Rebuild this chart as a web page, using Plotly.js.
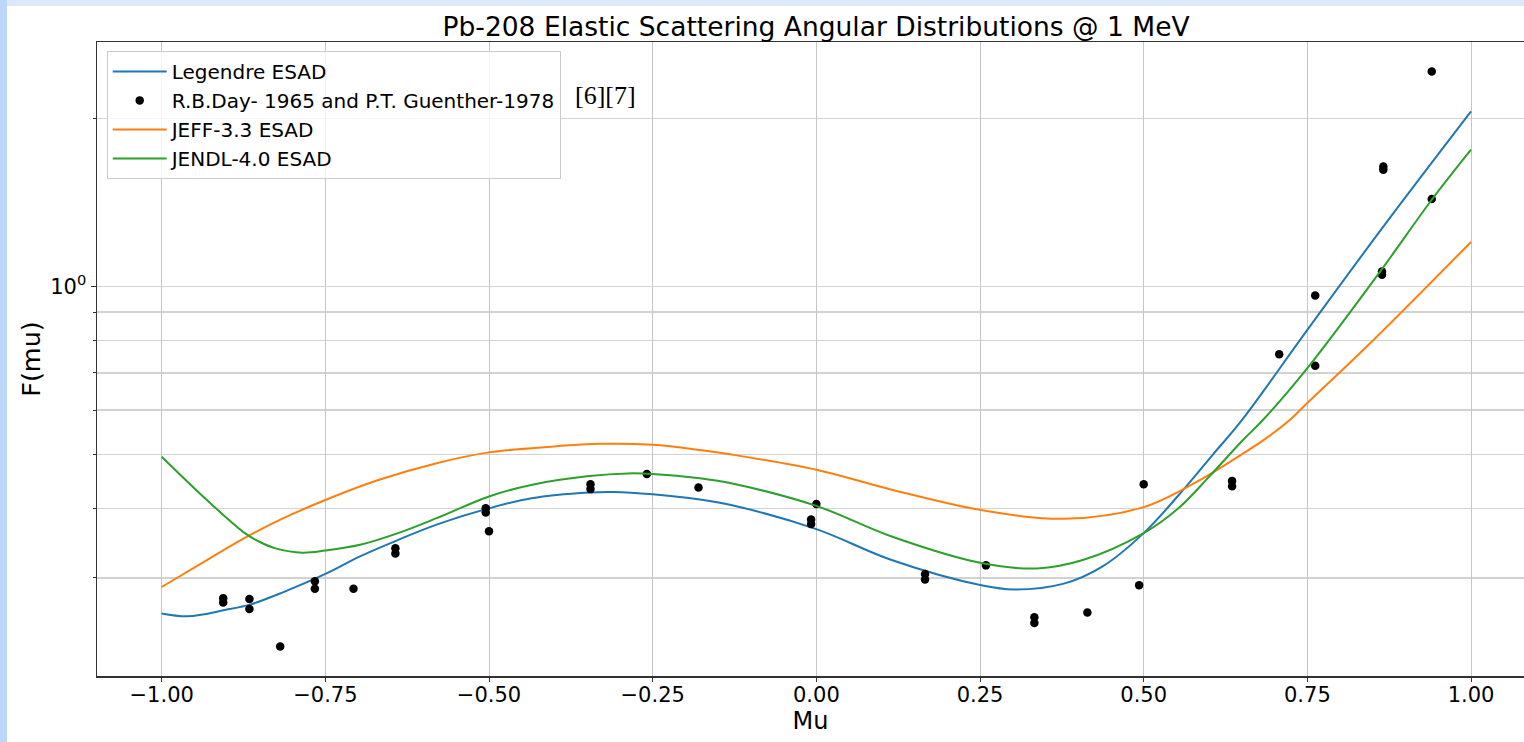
<!DOCTYPE html>
<html>
<head>
<meta charset="utf-8">
<script src="https://cdn.plot.ly/plotly-3.0.1.min.js"></script>
<style>
  html, body { margin:0; padding:0; background:#ffffff; overflow:hidden; width:1524px; height:742px; }
  #bandTop { position:absolute; left:0; top:0; width:1524px; height:6px; background:#dde9fa; }
  #bandLeft { position:absolute; left:0; top:0; width:7px; height:742px; background:#bcd8f8; }
  #chart { position:absolute; left:7px; top:6px; width:1517px; height:736px; }
</style>
</head>
<body>
<div id="bandTop"></div>
<div id="bandLeft"></div>
<div id="chart"></div>
<script>
// Legendre ESAD curve
const legendreMu = [-1.0,-0.96,-0.902,-0.864,-0.814,-0.75,-0.697,-0.639,-0.58,-0.5,-0.435,-0.347,-0.31,-0.25,-0.178,-0.132,0.0,0.115,0.252,0.302,0.378,0.436,0.5,0.565,0.606,0.65,0.75,0.866,1.0];
const legendreF  = [0.259,0.256,0.263,0.269,0.283,0.305,0.328,0.351,0.374,0.400,0.417,0.427,0.428,0.424,0.415,0.406,0.367,0.323,0.291,0.286,0.293,0.314,0.361,0.438,0.500,0.576,0.836,1.281,2.062];

// Experimental data points
const expMu = [-0.906,-0.906,-0.866,-0.866,-0.819,-0.766,-0.766,-0.707,-0.643,-0.643,-0.505,-0.505,-0.5,-0.345,-0.345,-0.259,-0.18,-0.008,-0.008,0.0,0.166,0.166,0.259,0.333,0.333,0.414,0.493,0.5,0.635,0.635,0.707,0.762,0.762,0.864,0.864,0.866,0.866,0.94,0.94];
const expF  = [0.276,0.271,0.275,0.264,0.226,0.296,0.287,0.287,0.339,0.332,0.400,0.393,0.364,0.442,0.433,0.461,0.436,0.382,0.375,0.407,0.305,0.298,0.316,0.255,0.249,0.260,0.291,0.442,0.448,0.438,0.756,0.964,0.721,1.064,1.050,1.642,1.620,1.435,2.432];

// JEFF-3.3 ESAD curve
const jeffMu = [-1.0,-0.931,-0.873,-0.814,-0.75,-0.668,-0.58,-0.5,-0.405,-0.329,-0.25,-0.178,-0.132,0.0,0.115,0.252,0.378,0.5,0.582,0.652,0.683,0.723,0.75,0.851,1.0];
const jeffF  = [0.289,0.323,0.354,0.384,0.414,0.450,0.482,0.504,0.516,0.522,0.520,0.509,0.500,0.469,0.432,0.397,0.383,0.402,0.447,0.502,0.530,0.576,0.618,0.802,1.202];

// JENDL-4.0 ESAD curve
const jendlMu = [-1.0,-0.931,-0.873,-0.85,-0.826,-0.785,-0.75,-0.697,-0.639,-0.58,-0.5,-0.434,-0.347,-0.288,-0.25,-0.178,-0.132,0.0,0.115,0.252,0.337,0.407,0.5,0.553,0.6,0.652,0.682,0.75,0.863,0.94,1.0];
const jendlF  = [0.495,0.414,0.361,0.348,0.339,0.333,0.336,0.344,0.361,0.384,0.420,0.441,0.457,0.462,0.461,0.453,0.444,0.404,0.356,0.319,0.312,0.323,0.361,0.400,0.456,0.531,0.576,0.714,1.071,1.431,1.760];

const xTicks = [-1.0,-0.75,-0.5,-0.25,0.0,0.25,0.5,0.75,1.0];
const yMajorTicks = [1];
const yMajorLabels = ['10<sup>0</sup>'];
const yMinorTicks = [0.3,0.4,0.5,0.6,0.7,0.8,0.9,2];
const refNote = '[6][7]';

const traces = [
  {x: legendreMu, y: legendreF, type:'scatter', mode:'lines', name:'Legendre ESAD',
   line:{color:'#1f77b4', width:2, shape:'spline', smoothing:1}},
  {x: expMu, y: expF, type:'scatter', mode:'markers',
   name:'R.B.Day- 1965 and P.T. Guenther-1978',
   marker:{color:'#000000', size:8.5}},
  {x: jeffMu, y: jeffF, type:'scatter', mode:'lines', name:'JEFF-3.3 ESAD',
   line:{color:'#ff7f0e', width:2, shape:'spline', smoothing:1}},
  {x: jendlMu, y: jendlF, type:'scatter', mode:'lines', name:'JENDL-4.0 ESAD',
   line:{color:'#2ca02c', width:2, shape:'spline', smoothing:1}}
];

const layout = {
  width:1517, height:736,
  margin:{l:90, r:0, t:36, b:66},
  paper_bgcolor:'#ffffff', plot_bgcolor:'#ffffff',
  font:{family:'DejaVu Sans', color:'#000000', size:20},
  title:{text:'Pb-208 Elastic Scattering Angular Distributions @ 1 MeV',
         font:{family:'DejaVu Sans', size:26.5, color:'#000000'},
         xref:'paper', x:0.5039, xanchor:'center', yref:'container', y:0.9715, yanchor:'middle'},
  xaxis:{range:[-1.0988, 1.0809], tickmode:'array', tickvals:xTicks, tickformat:'.2f',
         showgrid:true, gridcolor:'#c6c6c6', gridwidth:1, zeroline:false,
         showline:true, linecolor:'#333333', linewidth:1.5, mirror:true,
         ticks:'outside', ticklen:4, tickcolor:'#333333', tickwidth:1,
         ticklabelstandoff:-5,
         tickfont:{size:21, family:'DejaVu Sans'},
         title:{text:'Mu', font:{size:24, family:'DejaVu Sans'}, standoff:4}},
  yaxis:{type:'log', range:[-0.6988, 0.4387], tickmode:'array', tickvals:yMajorTicks, ticktext:yMajorLabels,
         showgrid:true, gridcolor:'#d2d2d2', gridwidth:1.5, zeroline:false,
         showline:true, linecolor:'#333333', linewidth:1.5,
         ticks:'outside', ticklen:5, tickcolor:'#333333',
         tickfont:{size:21, family:'DejaVu Sans'},
         minor:{tickmode:'array', tickvals:yMinorTicks, showgrid:true, gridcolor:'#d2d2d2', gridwidth:1.5,
                ticks:'outside', ticklen:3, tickcolor:'#333333'},
         automargin:true,
         title:{text:'F(mu)', font:{size:25.5, family:'DejaVu Sans'}, standoff:2}},
  showlegend:true,
  legend:{x:0.0068, y:0.986, xanchor:'left', yanchor:'top',
          bgcolor:'rgba(255,255,255,0.8)', bordercolor:'#cccccc', borderwidth:1,
          itemwidth:54,
          font:{size:20, family:'DejaVu Sans'}, tracegroupgap:0},
  annotations:[{text:refNote, xref:'paper', yref:'paper', x:0.3336, y:0.9153,
                xanchor:'left', yanchor:'middle', showarrow:false,
                font:{family:'Liberation Serif', size:26, color:'#000000'}}]
};

Plotly.newPlot('chart', traces, layout, {displayModeBar:false, staticPlot:true});
</script>
</body>
</html>
